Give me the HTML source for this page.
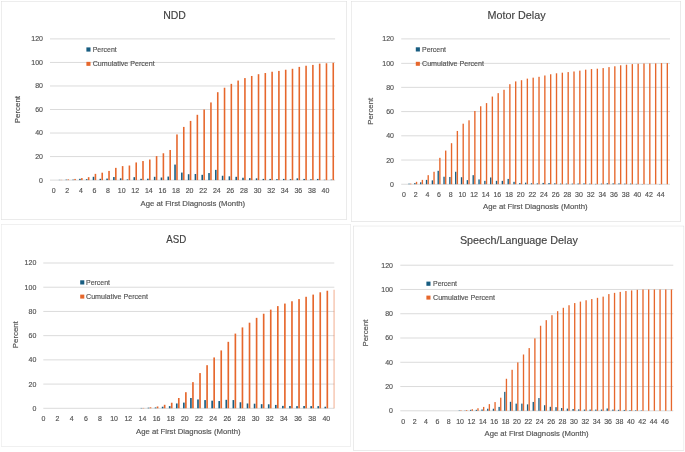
<!DOCTYPE html>
<html lang="en"><head><meta charset="utf-8"><title>Age at First Diagnosis</title>
<style>html,body{margin:0;padding:0;background:#fff}body{width:685px;height:452px;overflow:hidden}svg{display:block;will-change:transform;transform:translateZ(0)}</style>
</head><body>
<svg width="685" height="452" viewBox="0 0 685 452" font-family='&quot;Liberation Sans&quot;, sans-serif' fill="#525252" stroke="#525252" stroke-width="0.16" paint-order="stroke">
<rect width="685" height="452" fill="#fff" stroke="none"/>
<g>
<rect x="1.50" y="1.50" width="344.90" height="217.80" fill="#fff" stroke="#DBDBDB" stroke-width="1"/>
<rect x="50.00" y="179.60" width="285.10" height="1" fill="#DBDBDB" stroke="none"/>
<text x="39.10" y="182.55" font-size="7.6" textLength="3.90" lengthAdjust="spacingAndGlyphs">0</text>
<rect x="50.00" y="156.07" width="285.10" height="1" fill="#DBDBDB" stroke="none"/>
<text x="35.20" y="159.02" font-size="7.6" textLength="7.80" lengthAdjust="spacingAndGlyphs">20</text>
<rect x="50.00" y="132.53" width="285.10" height="1" fill="#DBDBDB" stroke="none"/>
<text x="35.20" y="135.48" font-size="7.6" textLength="7.80" lengthAdjust="spacingAndGlyphs">40</text>
<rect x="50.00" y="109.00" width="285.10" height="1" fill="#DBDBDB" stroke="none"/>
<text x="35.20" y="111.95" font-size="7.6" textLength="7.80" lengthAdjust="spacingAndGlyphs">60</text>
<rect x="50.00" y="85.47" width="285.10" height="1" fill="#DBDBDB" stroke="none"/>
<text x="35.20" y="88.42" font-size="7.6" textLength="7.80" lengthAdjust="spacingAndGlyphs">80</text>
<rect x="50.00" y="61.93" width="285.10" height="1" fill="#DBDBDB" stroke="none"/>
<text x="31.30" y="64.88" font-size="7.6" textLength="11.70" lengthAdjust="spacingAndGlyphs">100</text>
<rect x="50.00" y="38.40" width="285.10" height="1" fill="#DBDBDB" stroke="none"/>
<text x="31.30" y="41.35" font-size="7.6" textLength="11.70" lengthAdjust="spacingAndGlyphs">120</text>
<clipPath id="c1"><rect x="50.00" y="0" width="285.10" height="452"/></clipPath>
<g clip-path="url(#c1)">
<rect x="58.74" y="179.86" width="1.58" height="0.24" fill="#185D81" stroke="none"/>
<rect x="60.67" y="179.86" width="1.58" height="0.24" fill="#E6672C" stroke="none"/>
<rect x="65.53" y="179.63" width="1.58" height="0.47" fill="#185D81" stroke="none"/>
<rect x="67.47" y="179.39" width="1.58" height="0.71" fill="#E6672C" stroke="none"/>
<rect x="72.33" y="179.63" width="1.58" height="0.47" fill="#185D81" stroke="none"/>
<rect x="74.26" y="178.92" width="1.58" height="1.18" fill="#E6672C" stroke="none"/>
<rect x="79.12" y="178.81" width="1.58" height="1.29" fill="#185D81" stroke="none"/>
<rect x="81.06" y="178.10" width="1.58" height="2.00" fill="#E6672C" stroke="none"/>
<rect x="85.92" y="179.16" width="1.58" height="0.94" fill="#185D81" stroke="none"/>
<rect x="87.85" y="177.16" width="1.58" height="2.94" fill="#E6672C" stroke="none"/>
<rect x="92.71" y="176.81" width="1.58" height="3.29" fill="#185D81" stroke="none"/>
<rect x="94.65" y="173.86" width="1.58" height="6.24" fill="#E6672C" stroke="none"/>
<rect x="99.51" y="178.81" width="1.58" height="1.29" fill="#185D81" stroke="none"/>
<rect x="101.44" y="172.69" width="1.58" height="7.41" fill="#E6672C" stroke="none"/>
<rect x="106.30" y="178.57" width="1.58" height="1.53" fill="#185D81" stroke="none"/>
<rect x="108.24" y="170.92" width="1.58" height="9.18" fill="#E6672C" stroke="none"/>
<rect x="113.10" y="177.04" width="1.58" height="3.06" fill="#185D81" stroke="none"/>
<rect x="115.03" y="167.86" width="1.58" height="12.24" fill="#E6672C" stroke="none"/>
<rect x="119.89" y="178.34" width="1.58" height="1.76" fill="#185D81" stroke="none"/>
<rect x="121.83" y="166.10" width="1.58" height="14.00" fill="#E6672C" stroke="none"/>
<rect x="126.69" y="179.39" width="1.58" height="0.71" fill="#185D81" stroke="none"/>
<rect x="128.62" y="165.51" width="1.58" height="14.59" fill="#E6672C" stroke="none"/>
<rect x="133.48" y="177.16" width="1.58" height="2.94" fill="#185D81" stroke="none"/>
<rect x="135.42" y="162.45" width="1.58" height="17.65" fill="#E6672C" stroke="none"/>
<rect x="140.28" y="178.81" width="1.58" height="1.29" fill="#185D81" stroke="none"/>
<rect x="142.21" y="161.04" width="1.58" height="19.06" fill="#E6672C" stroke="none"/>
<rect x="147.07" y="178.69" width="1.58" height="1.41" fill="#185D81" stroke="none"/>
<rect x="149.01" y="159.51" width="1.58" height="20.59" fill="#E6672C" stroke="none"/>
<rect x="153.87" y="176.81" width="1.58" height="3.29" fill="#185D81" stroke="none"/>
<rect x="155.80" y="156.10" width="1.58" height="24.00" fill="#E6672C" stroke="none"/>
<rect x="160.66" y="177.51" width="1.58" height="2.59" fill="#185D81" stroke="none"/>
<rect x="162.60" y="153.27" width="1.58" height="26.83" fill="#E6672C" stroke="none"/>
<rect x="167.46" y="176.57" width="1.58" height="3.53" fill="#185D81" stroke="none"/>
<rect x="169.39" y="149.98" width="1.58" height="30.12" fill="#E6672C" stroke="none"/>
<rect x="174.25" y="164.57" width="1.58" height="15.53" fill="#185D81" stroke="none"/>
<rect x="176.19" y="134.45" width="1.58" height="45.65" fill="#E6672C" stroke="none"/>
<rect x="181.05" y="172.57" width="1.58" height="7.53" fill="#185D81" stroke="none"/>
<rect x="182.98" y="126.91" width="1.58" height="53.19" fill="#E6672C" stroke="none"/>
<rect x="187.84" y="174.22" width="1.58" height="5.88" fill="#185D81" stroke="none"/>
<rect x="189.78" y="120.91" width="1.58" height="59.19" fill="#E6672C" stroke="none"/>
<rect x="194.64" y="173.98" width="1.58" height="6.12" fill="#185D81" stroke="none"/>
<rect x="196.57" y="114.80" width="1.58" height="65.30" fill="#E6672C" stroke="none"/>
<rect x="201.43" y="174.81" width="1.58" height="5.29" fill="#185D81" stroke="none"/>
<rect x="203.37" y="109.50" width="1.58" height="70.60" fill="#E6672C" stroke="none"/>
<rect x="208.23" y="173.04" width="1.58" height="7.06" fill="#185D81" stroke="none"/>
<rect x="210.16" y="102.44" width="1.58" height="77.66" fill="#E6672C" stroke="none"/>
<rect x="215.02" y="169.86" width="1.58" height="10.24" fill="#185D81" stroke="none"/>
<rect x="216.96" y="92.20" width="1.58" height="87.90" fill="#E6672C" stroke="none"/>
<rect x="221.82" y="175.75" width="1.58" height="4.35" fill="#185D81" stroke="none"/>
<rect x="223.75" y="87.73" width="1.58" height="92.37" fill="#E6672C" stroke="none"/>
<rect x="228.61" y="176.33" width="1.58" height="3.77" fill="#185D81" stroke="none"/>
<rect x="230.55" y="83.85" width="1.58" height="96.25" fill="#E6672C" stroke="none"/>
<rect x="235.41" y="176.81" width="1.58" height="3.29" fill="#185D81" stroke="none"/>
<rect x="237.34" y="80.55" width="1.58" height="99.55" fill="#E6672C" stroke="none"/>
<rect x="242.20" y="177.75" width="1.58" height="2.35" fill="#185D81" stroke="none"/>
<rect x="244.14" y="78.08" width="1.58" height="102.02" fill="#E6672C" stroke="none"/>
<rect x="249.00" y="178.10" width="1.58" height="2.00" fill="#185D81" stroke="none"/>
<rect x="250.93" y="75.97" width="1.58" height="104.13" fill="#E6672C" stroke="none"/>
<rect x="255.79" y="178.34" width="1.58" height="1.76" fill="#185D81" stroke="none"/>
<rect x="257.73" y="74.20" width="1.58" height="105.90" fill="#E6672C" stroke="none"/>
<rect x="262.59" y="178.92" width="1.58" height="1.18" fill="#185D81" stroke="none"/>
<rect x="264.52" y="73.02" width="1.58" height="107.08" fill="#E6672C" stroke="none"/>
<rect x="269.38" y="178.92" width="1.58" height="1.18" fill="#185D81" stroke="none"/>
<rect x="271.32" y="71.73" width="1.58" height="108.37" fill="#E6672C" stroke="none"/>
<rect x="276.18" y="179.16" width="1.58" height="0.94" fill="#185D81" stroke="none"/>
<rect x="278.11" y="70.91" width="1.58" height="109.19" fill="#E6672C" stroke="none"/>
<rect x="282.97" y="178.92" width="1.58" height="1.18" fill="#185D81" stroke="none"/>
<rect x="284.91" y="69.73" width="1.58" height="110.37" fill="#E6672C" stroke="none"/>
<rect x="289.77" y="179.16" width="1.58" height="0.94" fill="#185D81" stroke="none"/>
<rect x="291.70" y="68.79" width="1.58" height="111.31" fill="#E6672C" stroke="none"/>
<rect x="296.56" y="178.34" width="1.58" height="1.76" fill="#185D81" stroke="none"/>
<rect x="298.50" y="66.90" width="1.58" height="113.20" fill="#E6672C" stroke="none"/>
<rect x="303.36" y="178.92" width="1.58" height="1.18" fill="#185D81" stroke="none"/>
<rect x="305.29" y="65.73" width="1.58" height="114.37" fill="#E6672C" stroke="none"/>
<rect x="310.15" y="179.28" width="1.58" height="0.82" fill="#185D81" stroke="none"/>
<rect x="312.09" y="64.90" width="1.58" height="115.20" fill="#E6672C" stroke="none"/>
<rect x="316.95" y="178.92" width="1.58" height="1.18" fill="#185D81" stroke="none"/>
<rect x="318.88" y="63.61" width="1.58" height="116.49" fill="#E6672C" stroke="none"/>
<rect x="323.74" y="179.75" width="1.58" height="0.35" fill="#185D81" stroke="none"/>
<rect x="325.68" y="63.26" width="1.58" height="116.84" fill="#E6672C" stroke="none"/>
<rect x="330.54" y="179.63" width="1.58" height="0.47" fill="#185D81" stroke="none"/>
<rect x="332.47" y="62.79" width="1.58" height="117.31" fill="#E6672C" stroke="none"/>
</g>
<text x="51.75" y="192.90" font-size="7.6" textLength="3.90" lengthAdjust="spacingAndGlyphs">0</text>
<text x="65.34" y="192.90" font-size="7.6" textLength="3.90" lengthAdjust="spacingAndGlyphs">2</text>
<text x="78.93" y="192.90" font-size="7.6" textLength="3.90" lengthAdjust="spacingAndGlyphs">4</text>
<text x="92.52" y="192.90" font-size="7.6" textLength="3.90" lengthAdjust="spacingAndGlyphs">6</text>
<text x="106.11" y="192.90" font-size="7.6" textLength="3.90" lengthAdjust="spacingAndGlyphs">8</text>
<text x="117.75" y="192.90" font-size="7.6" textLength="7.80" lengthAdjust="spacingAndGlyphs">10</text>
<text x="131.34" y="192.90" font-size="7.6" textLength="7.80" lengthAdjust="spacingAndGlyphs">12</text>
<text x="144.93" y="192.90" font-size="7.6" textLength="7.80" lengthAdjust="spacingAndGlyphs">14</text>
<text x="158.52" y="192.90" font-size="7.6" textLength="7.80" lengthAdjust="spacingAndGlyphs">16</text>
<text x="172.11" y="192.90" font-size="7.6" textLength="7.80" lengthAdjust="spacingAndGlyphs">18</text>
<text x="185.70" y="192.90" font-size="7.6" textLength="7.80" lengthAdjust="spacingAndGlyphs">20</text>
<text x="199.29" y="192.90" font-size="7.6" textLength="7.80" lengthAdjust="spacingAndGlyphs">22</text>
<text x="212.88" y="192.90" font-size="7.6" textLength="7.80" lengthAdjust="spacingAndGlyphs">24</text>
<text x="226.47" y="192.90" font-size="7.6" textLength="7.80" lengthAdjust="spacingAndGlyphs">26</text>
<text x="240.06" y="192.90" font-size="7.6" textLength="7.80" lengthAdjust="spacingAndGlyphs">28</text>
<text x="253.65" y="192.90" font-size="7.6" textLength="7.80" lengthAdjust="spacingAndGlyphs">30</text>
<text x="267.24" y="192.90" font-size="7.6" textLength="7.80" lengthAdjust="spacingAndGlyphs">32</text>
<text x="280.83" y="192.90" font-size="7.6" textLength="7.80" lengthAdjust="spacingAndGlyphs">34</text>
<text x="294.42" y="192.90" font-size="7.6" textLength="7.80" lengthAdjust="spacingAndGlyphs">36</text>
<text x="308.01" y="192.90" font-size="7.6" textLength="7.80" lengthAdjust="spacingAndGlyphs">38</text>
<text x="321.60" y="192.90" font-size="7.6" textLength="7.80" lengthAdjust="spacingAndGlyphs">40</text>
<text x="140.60" y="205.70" font-size="7.6" textLength="104.60" lengthAdjust="spacingAndGlyphs">Age at First Diagnosis (Month)</text>
<text transform="translate(20.30 109.60) rotate(-90)" x="-13.65" font-size="7.6" textLength="27.30" lengthAdjust="spacingAndGlyphs">Percent</text>
<text x="163.15" y="19.40" font-size="10.9" fill="#404040" textLength="22.70" lengthAdjust="spacingAndGlyphs">NDD</text>
<rect x="86.40" y="47.40" width="4.1" height="4.2" fill="#185D81" stroke="none"/>
<text x="92.70" y="52.10" font-size="7.6" textLength="24.0" lengthAdjust="spacingAndGlyphs">Percent</text>
<rect x="86.40" y="61.85" width="4.1" height="4.0" fill="#E6672C" stroke="none"/>
<text x="92.70" y="66.35" font-size="7.6" textLength="62.0" lengthAdjust="spacingAndGlyphs">Cumulative Percent</text>
</g>
<g>
<rect x="351.50" y="1.50" width="328.90" height="219.70" fill="#fff" stroke="#DBDBDB" stroke-width="1"/>
<rect x="401.20" y="183.75" width="268.80" height="1" fill="#DBDBDB" stroke="none"/>
<text x="390.10" y="186.80" font-size="7.6" textLength="3.90" lengthAdjust="spacingAndGlyphs">0</text>
<rect x="401.20" y="159.53" width="268.80" height="1" fill="#DBDBDB" stroke="none"/>
<text x="386.20" y="162.57" font-size="7.6" textLength="7.80" lengthAdjust="spacingAndGlyphs">20</text>
<rect x="401.20" y="135.30" width="268.80" height="1" fill="#DBDBDB" stroke="none"/>
<text x="386.20" y="138.35" font-size="7.6" textLength="7.80" lengthAdjust="spacingAndGlyphs">40</text>
<rect x="401.20" y="111.08" width="268.80" height="1" fill="#DBDBDB" stroke="none"/>
<text x="386.20" y="114.12" font-size="7.6" textLength="7.80" lengthAdjust="spacingAndGlyphs">60</text>
<rect x="401.20" y="86.85" width="268.80" height="1" fill="#DBDBDB" stroke="none"/>
<text x="386.20" y="89.90" font-size="7.6" textLength="7.80" lengthAdjust="spacingAndGlyphs">80</text>
<rect x="401.20" y="62.85" width="268.80" height="1" fill="#DBDBDB" stroke="none"/>
<text x="382.30" y="65.90" font-size="7.6" textLength="11.70" lengthAdjust="spacingAndGlyphs">100</text>
<rect x="401.20" y="38.40" width="268.80" height="1" fill="#DBDBDB" stroke="none"/>
<text x="382.30" y="41.45" font-size="7.6" textLength="11.70" lengthAdjust="spacingAndGlyphs">120</text>
<clipPath id="c2"><rect x="401.20" y="0" width="268.80" height="452"/></clipPath>
<g clip-path="url(#c2)">
<rect x="408.37" y="183.64" width="1.36" height="0.61" fill="#185D81" stroke="none"/>
<rect x="410.03" y="183.64" width="1.36" height="0.61" fill="#E6672C" stroke="none"/>
<rect x="414.20" y="183.04" width="1.36" height="1.21" fill="#185D81" stroke="none"/>
<rect x="415.86" y="181.83" width="1.36" height="2.42" fill="#E6672C" stroke="none"/>
<rect x="420.04" y="182.31" width="1.36" height="1.94" fill="#185D81" stroke="none"/>
<rect x="421.70" y="179.89" width="1.36" height="4.36" fill="#E6672C" stroke="none"/>
<rect x="425.87" y="179.89" width="1.36" height="4.36" fill="#185D81" stroke="none"/>
<rect x="427.53" y="175.17" width="1.36" height="9.08" fill="#E6672C" stroke="none"/>
<rect x="431.70" y="180.37" width="1.36" height="3.88" fill="#185D81" stroke="none"/>
<rect x="433.36" y="171.77" width="1.36" height="12.48" fill="#E6672C" stroke="none"/>
<rect x="437.53" y="170.81" width="1.36" height="13.44" fill="#185D81" stroke="none"/>
<rect x="439.19" y="157.84" width="1.36" height="26.41" fill="#E6672C" stroke="none"/>
<rect x="443.36" y="176.74" width="1.36" height="7.51" fill="#185D81" stroke="none"/>
<rect x="445.02" y="150.58" width="1.36" height="33.67" fill="#E6672C" stroke="none"/>
<rect x="449.20" y="176.98" width="1.36" height="7.27" fill="#185D81" stroke="none"/>
<rect x="450.86" y="143.19" width="1.36" height="41.06" fill="#E6672C" stroke="none"/>
<rect x="455.03" y="171.77" width="1.36" height="12.48" fill="#185D81" stroke="none"/>
<rect x="456.69" y="130.96" width="1.36" height="53.29" fill="#E6672C" stroke="none"/>
<rect x="460.86" y="177.22" width="1.36" height="7.03" fill="#185D81" stroke="none"/>
<rect x="462.52" y="123.69" width="1.36" height="60.56" fill="#E6672C" stroke="none"/>
<rect x="466.69" y="180.13" width="1.36" height="4.12" fill="#185D81" stroke="none"/>
<rect x="468.35" y="120.30" width="1.36" height="63.95" fill="#E6672C" stroke="none"/>
<rect x="472.52" y="175.17" width="1.36" height="9.08" fill="#185D81" stroke="none"/>
<rect x="474.18" y="110.97" width="1.36" height="73.28" fill="#E6672C" stroke="none"/>
<rect x="478.36" y="179.41" width="1.36" height="4.84" fill="#185D81" stroke="none"/>
<rect x="480.02" y="106.25" width="1.36" height="78.00" fill="#E6672C" stroke="none"/>
<rect x="484.19" y="180.86" width="1.36" height="3.39" fill="#185D81" stroke="none"/>
<rect x="485.85" y="103.10" width="1.36" height="81.15" fill="#E6672C" stroke="none"/>
<rect x="490.02" y="177.47" width="1.36" height="6.78" fill="#185D81" stroke="none"/>
<rect x="491.68" y="96.56" width="1.36" height="87.69" fill="#E6672C" stroke="none"/>
<rect x="495.85" y="180.86" width="1.36" height="3.39" fill="#185D81" stroke="none"/>
<rect x="497.51" y="93.16" width="1.36" height="91.09" fill="#E6672C" stroke="none"/>
<rect x="501.68" y="180.86" width="1.36" height="3.39" fill="#185D81" stroke="none"/>
<rect x="503.34" y="89.77" width="1.36" height="94.48" fill="#E6672C" stroke="none"/>
<rect x="507.52" y="178.92" width="1.36" height="5.33" fill="#185D81" stroke="none"/>
<rect x="509.18" y="84.20" width="1.36" height="100.05" fill="#E6672C" stroke="none"/>
<rect x="513.35" y="181.83" width="1.36" height="2.42" fill="#185D81" stroke="none"/>
<rect x="515.01" y="81.41" width="1.36" height="102.84" fill="#E6672C" stroke="none"/>
<rect x="519.18" y="183.04" width="1.36" height="1.21" fill="#185D81" stroke="none"/>
<rect x="520.84" y="80.20" width="1.36" height="104.05" fill="#E6672C" stroke="none"/>
<rect x="525.01" y="182.68" width="1.36" height="1.57" fill="#185D81" stroke="none"/>
<rect x="526.67" y="78.63" width="1.36" height="105.62" fill="#E6672C" stroke="none"/>
<rect x="530.84" y="183.28" width="1.36" height="0.97" fill="#185D81" stroke="none"/>
<rect x="532.50" y="77.66" width="1.36" height="106.59" fill="#E6672C" stroke="none"/>
<rect x="536.68" y="183.40" width="1.36" height="0.85" fill="#185D81" stroke="none"/>
<rect x="538.34" y="76.81" width="1.36" height="107.44" fill="#E6672C" stroke="none"/>
<rect x="542.51" y="182.92" width="1.36" height="1.33" fill="#185D81" stroke="none"/>
<rect x="544.17" y="75.48" width="1.36" height="108.77" fill="#E6672C" stroke="none"/>
<rect x="548.34" y="183.04" width="1.36" height="1.21" fill="#185D81" stroke="none"/>
<rect x="550.00" y="74.27" width="1.36" height="109.98" fill="#E6672C" stroke="none"/>
<rect x="554.17" y="183.28" width="1.36" height="0.97" fill="#185D81" stroke="none"/>
<rect x="555.83" y="73.30" width="1.36" height="110.95" fill="#E6672C" stroke="none"/>
<rect x="560.00" y="183.64" width="1.36" height="0.61" fill="#185D81" stroke="none"/>
<rect x="561.66" y="72.69" width="1.36" height="111.56" fill="#E6672C" stroke="none"/>
<rect x="565.84" y="183.64" width="1.36" height="0.61" fill="#185D81" stroke="none"/>
<rect x="567.50" y="72.09" width="1.36" height="112.16" fill="#E6672C" stroke="none"/>
<rect x="571.67" y="183.64" width="1.36" height="0.61" fill="#185D81" stroke="none"/>
<rect x="573.33" y="71.48" width="1.36" height="112.77" fill="#E6672C" stroke="none"/>
<rect x="577.50" y="183.52" width="1.36" height="0.73" fill="#185D81" stroke="none"/>
<rect x="579.16" y="70.63" width="1.36" height="113.62" fill="#E6672C" stroke="none"/>
<rect x="583.33" y="183.40" width="1.36" height="0.85" fill="#185D81" stroke="none"/>
<rect x="584.99" y="69.67" width="1.36" height="114.58" fill="#E6672C" stroke="none"/>
<rect x="589.16" y="183.64" width="1.36" height="0.61" fill="#185D81" stroke="none"/>
<rect x="590.82" y="69.06" width="1.36" height="115.19" fill="#E6672C" stroke="none"/>
<rect x="595.00" y="183.89" width="1.36" height="0.36" fill="#185D81" stroke="none"/>
<rect x="596.66" y="68.70" width="1.36" height="115.55" fill="#E6672C" stroke="none"/>
<rect x="600.83" y="183.64" width="1.36" height="0.61" fill="#185D81" stroke="none"/>
<rect x="602.49" y="68.09" width="1.36" height="116.16" fill="#E6672C" stroke="none"/>
<rect x="606.66" y="183.28" width="1.36" height="0.97" fill="#185D81" stroke="none"/>
<rect x="608.32" y="67.12" width="1.36" height="117.13" fill="#E6672C" stroke="none"/>
<rect x="612.49" y="183.40" width="1.36" height="0.85" fill="#185D81" stroke="none"/>
<rect x="614.15" y="66.27" width="1.36" height="117.98" fill="#E6672C" stroke="none"/>
<rect x="618.32" y="183.40" width="1.36" height="0.85" fill="#185D81" stroke="none"/>
<rect x="619.98" y="65.31" width="1.36" height="118.94" fill="#E6672C" stroke="none"/>
<rect x="624.16" y="183.64" width="1.36" height="0.61" fill="#185D81" stroke="none"/>
<rect x="625.82" y="64.70" width="1.36" height="119.55" fill="#E6672C" stroke="none"/>
<rect x="629.99" y="183.64" width="1.36" height="0.61" fill="#185D81" stroke="none"/>
<rect x="631.65" y="64.09" width="1.36" height="120.16" fill="#E6672C" stroke="none"/>
<rect x="635.82" y="183.89" width="1.36" height="0.36" fill="#185D81" stroke="none"/>
<rect x="637.48" y="63.73" width="1.36" height="120.52" fill="#E6672C" stroke="none"/>
<rect x="641.65" y="184.01" width="1.36" height="0.24" fill="#185D81" stroke="none"/>
<rect x="643.31" y="63.49" width="1.36" height="120.76" fill="#E6672C" stroke="none"/>
<rect x="647.48" y="184.13" width="1.36" height="0.12" fill="#185D81" stroke="none"/>
<rect x="649.14" y="63.37" width="1.36" height="120.88" fill="#E6672C" stroke="none"/>
<rect x="654.98" y="63.37" width="1.36" height="120.88" fill="#E6672C" stroke="none"/>
<rect x="659.15" y="184.01" width="1.36" height="0.24" fill="#185D81" stroke="none"/>
<rect x="660.81" y="63.12" width="1.36" height="121.12" fill="#E6672C" stroke="none"/>
<rect x="666.64" y="63.12" width="1.36" height="121.12" fill="#E6672C" stroke="none"/>
</g>
<text x="402.10" y="197.30" font-size="7.6" textLength="3.90" lengthAdjust="spacingAndGlyphs">0</text>
<text x="413.76" y="197.30" font-size="7.6" textLength="3.90" lengthAdjust="spacingAndGlyphs">2</text>
<text x="425.43" y="197.30" font-size="7.6" textLength="3.90" lengthAdjust="spacingAndGlyphs">4</text>
<text x="437.09" y="197.30" font-size="7.6" textLength="3.90" lengthAdjust="spacingAndGlyphs">6</text>
<text x="448.76" y="197.30" font-size="7.6" textLength="3.90" lengthAdjust="spacingAndGlyphs">8</text>
<text x="458.47" y="197.30" font-size="7.6" textLength="7.80" lengthAdjust="spacingAndGlyphs">10</text>
<text x="470.13" y="197.30" font-size="7.6" textLength="7.80" lengthAdjust="spacingAndGlyphs">12</text>
<text x="481.80" y="197.30" font-size="7.6" textLength="7.80" lengthAdjust="spacingAndGlyphs">14</text>
<text x="493.46" y="197.30" font-size="7.6" textLength="7.80" lengthAdjust="spacingAndGlyphs">16</text>
<text x="505.13" y="197.30" font-size="7.6" textLength="7.80" lengthAdjust="spacingAndGlyphs">18</text>
<text x="516.79" y="197.30" font-size="7.6" textLength="7.80" lengthAdjust="spacingAndGlyphs">20</text>
<text x="528.45" y="197.30" font-size="7.6" textLength="7.80" lengthAdjust="spacingAndGlyphs">22</text>
<text x="540.12" y="197.30" font-size="7.6" textLength="7.80" lengthAdjust="spacingAndGlyphs">24</text>
<text x="551.78" y="197.30" font-size="7.6" textLength="7.80" lengthAdjust="spacingAndGlyphs">26</text>
<text x="563.45" y="197.30" font-size="7.6" textLength="7.80" lengthAdjust="spacingAndGlyphs">28</text>
<text x="575.11" y="197.30" font-size="7.6" textLength="7.80" lengthAdjust="spacingAndGlyphs">30</text>
<text x="586.77" y="197.30" font-size="7.6" textLength="7.80" lengthAdjust="spacingAndGlyphs">32</text>
<text x="598.44" y="197.30" font-size="7.6" textLength="7.80" lengthAdjust="spacingAndGlyphs">34</text>
<text x="610.10" y="197.30" font-size="7.6" textLength="7.80" lengthAdjust="spacingAndGlyphs">36</text>
<text x="621.77" y="197.30" font-size="7.6" textLength="7.80" lengthAdjust="spacingAndGlyphs">38</text>
<text x="633.43" y="197.30" font-size="7.6" textLength="7.80" lengthAdjust="spacingAndGlyphs">40</text>
<text x="645.09" y="197.30" font-size="7.6" textLength="7.80" lengthAdjust="spacingAndGlyphs">42</text>
<text x="656.76" y="197.30" font-size="7.6" textLength="7.80" lengthAdjust="spacingAndGlyphs">44</text>
<text x="483.05" y="209.30" font-size="7.6" textLength="104.50" lengthAdjust="spacingAndGlyphs">Age at First Diagnosis (Month)</text>
<text transform="translate(372.80 111.30) rotate(-90)" x="-13.50" font-size="7.6" textLength="27.00" lengthAdjust="spacingAndGlyphs">Percent</text>
<text x="487.40" y="19.40" font-size="10.9" fill="#404040" textLength="58.20" lengthAdjust="spacingAndGlyphs">Motor Delay</text>
<rect x="415.80" y="47.30" width="4.1" height="4.2" fill="#185D81" stroke="none"/>
<text x="422.00" y="52.00" font-size="7.6" textLength="24.0" lengthAdjust="spacingAndGlyphs">Percent</text>
<rect x="415.80" y="61.80" width="4.1" height="4.0" fill="#E6672C" stroke="none"/>
<text x="422.00" y="66.30" font-size="7.6" textLength="62.0" lengthAdjust="spacingAndGlyphs">Cumulative Percent</text>
</g>
<g>
<rect x="1.50" y="224.60" width="348.90" height="221.50" fill="#fff" stroke="#E4E4E4" stroke-width="1"/>
<rect x="43.30" y="407.80" width="291.00" height="1" fill="#DBDBDB" stroke="none"/>
<text x="32.40" y="410.75" font-size="7.6" textLength="3.90" lengthAdjust="spacingAndGlyphs">0</text>
<rect x="43.30" y="383.58" width="291.00" height="1" fill="#DBDBDB" stroke="none"/>
<text x="28.50" y="386.53" font-size="7.6" textLength="7.80" lengthAdjust="spacingAndGlyphs">20</text>
<rect x="43.30" y="359.37" width="291.00" height="1" fill="#DBDBDB" stroke="none"/>
<text x="28.50" y="362.32" font-size="7.6" textLength="7.80" lengthAdjust="spacingAndGlyphs">40</text>
<rect x="43.30" y="335.15" width="291.00" height="1" fill="#DBDBDB" stroke="none"/>
<text x="28.50" y="338.10" font-size="7.6" textLength="7.80" lengthAdjust="spacingAndGlyphs">60</text>
<rect x="43.30" y="310.93" width="291.00" height="1" fill="#DBDBDB" stroke="none"/>
<text x="28.50" y="313.88" font-size="7.6" textLength="7.80" lengthAdjust="spacingAndGlyphs">80</text>
<rect x="43.30" y="286.72" width="291.00" height="1" fill="#DBDBDB" stroke="none"/>
<text x="24.60" y="289.67" font-size="7.6" textLength="11.70" lengthAdjust="spacingAndGlyphs">100</text>
<rect x="43.30" y="262.50" width="291.00" height="1" fill="#DBDBDB" stroke="none"/>
<text x="24.60" y="265.45" font-size="7.6" textLength="11.70" lengthAdjust="spacingAndGlyphs">120</text>
<clipPath id="c3"><rect x="43.30" y="0" width="292.70" height="452"/></clipPath>
<g clip-path="url(#c3)">
<rect x="140.59" y="407.94" width="1.65" height="0.36" fill="#185D81" stroke="none"/>
<rect x="142.60" y="407.94" width="1.65" height="0.36" fill="#E6672C" stroke="none"/>
<rect x="147.66" y="407.69" width="1.65" height="0.61" fill="#185D81" stroke="none"/>
<rect x="149.68" y="407.33" width="1.65" height="0.97" fill="#E6672C" stroke="none"/>
<rect x="154.74" y="407.45" width="1.65" height="0.85" fill="#185D81" stroke="none"/>
<rect x="156.75" y="406.48" width="1.65" height="1.82" fill="#E6672C" stroke="none"/>
<rect x="161.81" y="406.73" width="1.65" height="1.57" fill="#185D81" stroke="none"/>
<rect x="163.82" y="404.79" width="1.65" height="3.51" fill="#E6672C" stroke="none"/>
<rect x="168.88" y="406.12" width="1.65" height="2.18" fill="#185D81" stroke="none"/>
<rect x="170.90" y="402.73" width="1.65" height="5.57" fill="#E6672C" stroke="none"/>
<rect x="175.96" y="403.46" width="1.65" height="4.84" fill="#185D81" stroke="none"/>
<rect x="177.97" y="398.01" width="1.65" height="10.29" fill="#E6672C" stroke="none"/>
<rect x="183.03" y="402.61" width="1.65" height="5.69" fill="#185D81" stroke="none"/>
<rect x="185.04" y="392.20" width="1.65" height="16.10" fill="#E6672C" stroke="none"/>
<rect x="190.10" y="398.01" width="1.65" height="10.29" fill="#185D81" stroke="none"/>
<rect x="192.12" y="382.15" width="1.65" height="26.15" fill="#E6672C" stroke="none"/>
<rect x="197.17" y="399.46" width="1.65" height="8.84" fill="#185D81" stroke="none"/>
<rect x="199.19" y="373.06" width="1.65" height="35.24" fill="#E6672C" stroke="none"/>
<rect x="204.25" y="400.07" width="1.65" height="8.23" fill="#185D81" stroke="none"/>
<rect x="206.26" y="365.19" width="1.65" height="43.11" fill="#E6672C" stroke="none"/>
<rect x="211.32" y="400.67" width="1.65" height="7.63" fill="#185D81" stroke="none"/>
<rect x="213.33" y="357.44" width="1.65" height="50.86" fill="#E6672C" stroke="none"/>
<rect x="218.39" y="401.04" width="1.65" height="7.27" fill="#185D81" stroke="none"/>
<rect x="220.41" y="350.42" width="1.65" height="57.88" fill="#E6672C" stroke="none"/>
<rect x="225.47" y="399.82" width="1.65" height="8.48" fill="#185D81" stroke="none"/>
<rect x="227.48" y="341.83" width="1.65" height="66.47" fill="#E6672C" stroke="none"/>
<rect x="232.54" y="400.07" width="1.65" height="8.23" fill="#185D81" stroke="none"/>
<rect x="234.55" y="333.59" width="1.65" height="74.71" fill="#E6672C" stroke="none"/>
<rect x="239.61" y="402.25" width="1.65" height="6.05" fill="#185D81" stroke="none"/>
<rect x="241.63" y="327.42" width="1.65" height="80.88" fill="#E6672C" stroke="none"/>
<rect x="246.69" y="403.46" width="1.65" height="4.84" fill="#185D81" stroke="none"/>
<rect x="248.70" y="322.69" width="1.65" height="85.61" fill="#E6672C" stroke="none"/>
<rect x="253.76" y="403.70" width="1.65" height="4.60" fill="#185D81" stroke="none"/>
<rect x="255.77" y="317.85" width="1.65" height="90.45" fill="#E6672C" stroke="none"/>
<rect x="260.83" y="404.18" width="1.65" height="4.12" fill="#185D81" stroke="none"/>
<rect x="262.85" y="313.73" width="1.65" height="94.57" fill="#E6672C" stroke="none"/>
<rect x="267.90" y="404.30" width="1.65" height="4.00" fill="#185D81" stroke="none"/>
<rect x="269.92" y="309.62" width="1.65" height="98.68" fill="#E6672C" stroke="none"/>
<rect x="274.98" y="404.91" width="1.65" height="3.39" fill="#185D81" stroke="none"/>
<rect x="276.99" y="306.11" width="1.65" height="102.19" fill="#E6672C" stroke="none"/>
<rect x="282.05" y="405.88" width="1.65" height="2.42" fill="#185D81" stroke="none"/>
<rect x="284.06" y="303.56" width="1.65" height="104.74" fill="#E6672C" stroke="none"/>
<rect x="289.12" y="406.00" width="1.65" height="2.30" fill="#185D81" stroke="none"/>
<rect x="291.14" y="301.26" width="1.65" height="107.04" fill="#E6672C" stroke="none"/>
<rect x="296.20" y="406.12" width="1.65" height="2.18" fill="#185D81" stroke="none"/>
<rect x="298.21" y="299.08" width="1.65" height="109.22" fill="#E6672C" stroke="none"/>
<rect x="303.27" y="406.00" width="1.65" height="2.30" fill="#185D81" stroke="none"/>
<rect x="305.28" y="296.78" width="1.65" height="111.52" fill="#E6672C" stroke="none"/>
<rect x="310.34" y="406.12" width="1.65" height="2.18" fill="#185D81" stroke="none"/>
<rect x="312.36" y="294.60" width="1.65" height="113.70" fill="#E6672C" stroke="none"/>
<rect x="317.42" y="406.12" width="1.65" height="2.18" fill="#185D81" stroke="none"/>
<rect x="319.43" y="292.30" width="1.65" height="116.00" fill="#E6672C" stroke="none"/>
<rect x="324.49" y="406.73" width="1.65" height="1.57" fill="#185D81" stroke="none"/>
<rect x="326.50" y="290.73" width="1.65" height="117.57" fill="#E6672C" stroke="none"/>
<rect x="333.28" y="289.76" width="1.65" height="118.54" fill="#E6672C" fill-opacity="0.32" stroke="none"/>
</g>
<text x="41.45" y="420.90" font-size="7.6" textLength="3.90" lengthAdjust="spacingAndGlyphs">0</text>
<text x="55.60" y="420.90" font-size="7.6" textLength="3.90" lengthAdjust="spacingAndGlyphs">2</text>
<text x="69.74" y="420.90" font-size="7.6" textLength="3.90" lengthAdjust="spacingAndGlyphs">4</text>
<text x="83.89" y="420.90" font-size="7.6" textLength="3.90" lengthAdjust="spacingAndGlyphs">6</text>
<text x="98.03" y="420.90" font-size="7.6" textLength="3.90" lengthAdjust="spacingAndGlyphs">8</text>
<text x="110.23" y="420.90" font-size="7.6" textLength="7.80" lengthAdjust="spacingAndGlyphs">10</text>
<text x="124.38" y="420.90" font-size="7.6" textLength="7.80" lengthAdjust="spacingAndGlyphs">12</text>
<text x="138.52" y="420.90" font-size="7.6" textLength="7.80" lengthAdjust="spacingAndGlyphs">14</text>
<text x="152.67" y="420.90" font-size="7.6" textLength="7.80" lengthAdjust="spacingAndGlyphs">16</text>
<text x="166.81" y="420.90" font-size="7.6" textLength="7.80" lengthAdjust="spacingAndGlyphs">18</text>
<text x="180.96" y="420.90" font-size="7.6" textLength="7.80" lengthAdjust="spacingAndGlyphs">20</text>
<text x="195.11" y="420.90" font-size="7.6" textLength="7.80" lengthAdjust="spacingAndGlyphs">22</text>
<text x="209.25" y="420.90" font-size="7.6" textLength="7.80" lengthAdjust="spacingAndGlyphs">24</text>
<text x="223.40" y="420.90" font-size="7.6" textLength="7.80" lengthAdjust="spacingAndGlyphs">26</text>
<text x="237.54" y="420.90" font-size="7.6" textLength="7.80" lengthAdjust="spacingAndGlyphs">28</text>
<text x="251.69" y="420.90" font-size="7.6" textLength="7.80" lengthAdjust="spacingAndGlyphs">30</text>
<text x="265.84" y="420.90" font-size="7.6" textLength="7.80" lengthAdjust="spacingAndGlyphs">32</text>
<text x="279.98" y="420.90" font-size="7.6" textLength="7.80" lengthAdjust="spacingAndGlyphs">34</text>
<text x="294.13" y="420.90" font-size="7.6" textLength="7.80" lengthAdjust="spacingAndGlyphs">36</text>
<text x="308.27" y="420.90" font-size="7.6" textLength="7.80" lengthAdjust="spacingAndGlyphs">38</text>
<text x="322.42" y="420.90" font-size="7.6" textLength="7.80" lengthAdjust="spacingAndGlyphs">40</text>
<text x="136.05" y="433.60" font-size="7.6" textLength="104.50" lengthAdjust="spacingAndGlyphs">Age at First Diagnosis (Month)</text>
<text transform="translate(17.90 334.70) rotate(-90)" x="-13.50" font-size="7.6" textLength="27.00" lengthAdjust="spacingAndGlyphs">Percent</text>
<text x="166.20" y="242.80" font-size="10.9" fill="#404040" textLength="20.00" lengthAdjust="spacingAndGlyphs">ASD</text>
<rect x="80.20" y="280.30" width="4.1" height="4.2" fill="#185D81" stroke="none"/>
<text x="86.00" y="285.00" font-size="7.6" textLength="24.0" lengthAdjust="spacingAndGlyphs">Percent</text>
<rect x="80.20" y="294.60" width="4.1" height="4.0" fill="#E6672C" stroke="none"/>
<text x="86.00" y="299.10" font-size="7.6" textLength="62.0" lengthAdjust="spacingAndGlyphs">Cumulative Percent</text>
</g>
<g>
<rect x="353.60" y="226.30" width="330.00" height="223.80" fill="#fff" stroke="#DBDBDB" stroke-width="1"/>
<rect x="400.30" y="410.30" width="273.00" height="1" fill="#DBDBDB" stroke="none"/>
<text x="389.10" y="413.25" font-size="7.6" textLength="3.90" lengthAdjust="spacingAndGlyphs">0</text>
<rect x="400.30" y="386.03" width="273.00" height="1" fill="#DBDBDB" stroke="none"/>
<text x="385.20" y="388.98" font-size="7.6" textLength="7.80" lengthAdjust="spacingAndGlyphs">20</text>
<rect x="400.30" y="361.77" width="273.00" height="1" fill="#DBDBDB" stroke="none"/>
<text x="385.20" y="364.72" font-size="7.6" textLength="7.80" lengthAdjust="spacingAndGlyphs">40</text>
<rect x="400.30" y="337.50" width="273.00" height="1" fill="#DBDBDB" stroke="none"/>
<text x="385.20" y="340.45" font-size="7.6" textLength="7.80" lengthAdjust="spacingAndGlyphs">60</text>
<rect x="400.30" y="313.23" width="273.00" height="1" fill="#DBDBDB" stroke="none"/>
<text x="385.20" y="316.18" font-size="7.6" textLength="7.80" lengthAdjust="spacingAndGlyphs">80</text>
<rect x="400.30" y="288.97" width="273.00" height="1" fill="#DBDBDB" stroke="none"/>
<text x="381.30" y="291.92" font-size="7.6" textLength="11.70" lengthAdjust="spacingAndGlyphs">100</text>
<rect x="400.30" y="264.70" width="273.00" height="1" fill="#DBDBDB" stroke="none"/>
<text x="381.30" y="267.65" font-size="7.6" textLength="11.70" lengthAdjust="spacingAndGlyphs">120</text>
<clipPath id="c4"><rect x="400.30" y="0" width="273.00" height="452"/></clipPath>
<g clip-path="url(#c4)">
<rect x="458.63" y="410.44" width="1.33" height="0.36" fill="#185D81" stroke="none"/>
<rect x="460.25" y="410.31" width="1.33" height="0.49" fill="#E6672C" stroke="none"/>
<rect x="464.32" y="410.56" width="1.33" height="0.24" fill="#185D81" stroke="none"/>
<rect x="465.94" y="410.07" width="1.33" height="0.73" fill="#E6672C" stroke="none"/>
<rect x="470.01" y="409.83" width="1.33" height="0.97" fill="#185D81" stroke="none"/>
<rect x="471.63" y="409.22" width="1.33" height="1.58" fill="#E6672C" stroke="none"/>
<rect x="475.70" y="409.83" width="1.33" height="0.97" fill="#185D81" stroke="none"/>
<rect x="477.32" y="408.25" width="1.33" height="2.55" fill="#E6672C" stroke="none"/>
<rect x="481.39" y="409.47" width="1.33" height="1.33" fill="#185D81" stroke="none"/>
<rect x="483.01" y="406.92" width="1.33" height="3.88" fill="#E6672C" stroke="none"/>
<rect x="487.08" y="408.74" width="1.33" height="2.06" fill="#185D81" stroke="none"/>
<rect x="488.70" y="404.13" width="1.33" height="6.67" fill="#E6672C" stroke="none"/>
<rect x="492.77" y="408.74" width="1.33" height="2.06" fill="#185D81" stroke="none"/>
<rect x="494.39" y="402.06" width="1.33" height="8.74" fill="#E6672C" stroke="none"/>
<rect x="498.46" y="406.92" width="1.33" height="3.88" fill="#185D81" stroke="none"/>
<rect x="500.08" y="397.70" width="1.33" height="13.10" fill="#E6672C" stroke="none"/>
<rect x="504.15" y="391.87" width="1.33" height="18.93" fill="#185D81" stroke="none"/>
<rect x="505.77" y="378.77" width="1.33" height="32.03" fill="#E6672C" stroke="none"/>
<rect x="509.84" y="401.82" width="1.33" height="8.98" fill="#185D81" stroke="none"/>
<rect x="511.46" y="369.79" width="1.33" height="41.01" fill="#E6672C" stroke="none"/>
<rect x="515.53" y="403.64" width="1.33" height="7.16" fill="#185D81" stroke="none"/>
<rect x="517.15" y="362.39" width="1.33" height="48.41" fill="#E6672C" stroke="none"/>
<rect x="521.22" y="403.64" width="1.33" height="7.16" fill="#185D81" stroke="none"/>
<rect x="522.84" y="354.50" width="1.33" height="56.30" fill="#E6672C" stroke="none"/>
<rect x="526.91" y="404.37" width="1.33" height="6.43" fill="#185D81" stroke="none"/>
<rect x="528.53" y="348.07" width="1.33" height="62.73" fill="#E6672C" stroke="none"/>
<rect x="532.60" y="401.94" width="1.33" height="8.86" fill="#185D81" stroke="none"/>
<rect x="534.22" y="338.36" width="1.33" height="72.44" fill="#E6672C" stroke="none"/>
<rect x="538.29" y="398.06" width="1.33" height="12.74" fill="#185D81" stroke="none"/>
<rect x="539.91" y="325.75" width="1.33" height="85.05" fill="#E6672C" stroke="none"/>
<rect x="543.98" y="405.22" width="1.33" height="5.58" fill="#185D81" stroke="none"/>
<rect x="545.60" y="320.16" width="1.33" height="90.64" fill="#E6672C" stroke="none"/>
<rect x="549.67" y="406.80" width="1.33" height="4.00" fill="#185D81" stroke="none"/>
<rect x="551.29" y="315.19" width="1.33" height="95.61" fill="#E6672C" stroke="none"/>
<rect x="555.36" y="407.16" width="1.33" height="3.64" fill="#185D81" stroke="none"/>
<rect x="556.98" y="311.19" width="1.33" height="99.61" fill="#E6672C" stroke="none"/>
<rect x="561.05" y="408.01" width="1.33" height="2.79" fill="#185D81" stroke="none"/>
<rect x="562.67" y="307.79" width="1.33" height="103.01" fill="#E6672C" stroke="none"/>
<rect x="566.74" y="408.62" width="1.33" height="2.18" fill="#185D81" stroke="none"/>
<rect x="568.36" y="305.24" width="1.33" height="105.56" fill="#E6672C" stroke="none"/>
<rect x="572.43" y="408.98" width="1.33" height="1.82" fill="#185D81" stroke="none"/>
<rect x="574.05" y="303.06" width="1.33" height="107.74" fill="#E6672C" stroke="none"/>
<rect x="578.12" y="409.34" width="1.33" height="1.46" fill="#185D81" stroke="none"/>
<rect x="579.74" y="301.60" width="1.33" height="109.20" fill="#E6672C" stroke="none"/>
<rect x="583.81" y="409.59" width="1.33" height="1.21" fill="#185D81" stroke="none"/>
<rect x="585.43" y="300.27" width="1.33" height="110.53" fill="#E6672C" stroke="none"/>
<rect x="589.50" y="409.59" width="1.33" height="1.21" fill="#185D81" stroke="none"/>
<rect x="591.12" y="299.05" width="1.33" height="111.75" fill="#E6672C" stroke="none"/>
<rect x="595.19" y="409.59" width="1.33" height="1.21" fill="#185D81" stroke="none"/>
<rect x="596.81" y="297.84" width="1.33" height="112.96" fill="#E6672C" stroke="none"/>
<rect x="600.88" y="409.59" width="1.33" height="1.21" fill="#185D81" stroke="none"/>
<rect x="602.50" y="296.63" width="1.33" height="114.17" fill="#E6672C" stroke="none"/>
<rect x="606.57" y="408.49" width="1.33" height="2.31" fill="#185D81" stroke="none"/>
<rect x="608.19" y="294.08" width="1.33" height="116.72" fill="#E6672C" stroke="none"/>
<rect x="612.26" y="409.59" width="1.33" height="1.21" fill="#185D81" stroke="none"/>
<rect x="613.88" y="292.86" width="1.33" height="117.94" fill="#E6672C" stroke="none"/>
<rect x="617.95" y="409.83" width="1.33" height="0.97" fill="#185D81" stroke="none"/>
<rect x="619.57" y="291.89" width="1.33" height="118.91" fill="#E6672C" stroke="none"/>
<rect x="623.64" y="409.95" width="1.33" height="0.85" fill="#185D81" stroke="none"/>
<rect x="625.26" y="291.04" width="1.33" height="119.76" fill="#E6672C" stroke="none"/>
<rect x="629.33" y="410.19" width="1.33" height="0.61" fill="#185D81" stroke="none"/>
<rect x="630.95" y="290.44" width="1.33" height="120.36" fill="#E6672C" stroke="none"/>
<rect x="635.02" y="410.31" width="1.33" height="0.49" fill="#185D81" stroke="none"/>
<rect x="636.64" y="289.83" width="1.33" height="120.97" fill="#E6672C" stroke="none"/>
<rect x="640.71" y="410.44" width="1.33" height="0.36" fill="#185D81" stroke="none"/>
<rect x="642.33" y="289.47" width="1.33" height="121.33" fill="#E6672C" stroke="none"/>
<rect x="648.02" y="289.47" width="1.33" height="121.33" fill="#E6672C" stroke="none"/>
<rect x="653.71" y="289.47" width="1.33" height="121.33" fill="#E6672C" stroke="none"/>
<rect x="659.40" y="289.47" width="1.33" height="121.33" fill="#E6672C" stroke="none"/>
<rect x="665.09" y="289.47" width="1.33" height="121.33" fill="#E6672C" stroke="none"/>
<rect x="670.78" y="289.47" width="1.33" height="121.33" fill="#E6672C" stroke="none"/>
</g>
<text x="401.25" y="424.00" font-size="7.6" textLength="3.90" lengthAdjust="spacingAndGlyphs">0</text>
<text x="412.63" y="424.00" font-size="7.6" textLength="3.90" lengthAdjust="spacingAndGlyphs">2</text>
<text x="424.01" y="424.00" font-size="7.6" textLength="3.90" lengthAdjust="spacingAndGlyphs">4</text>
<text x="435.39" y="424.00" font-size="7.6" textLength="3.90" lengthAdjust="spacingAndGlyphs">6</text>
<text x="446.77" y="424.00" font-size="7.6" textLength="3.90" lengthAdjust="spacingAndGlyphs">8</text>
<text x="456.20" y="424.00" font-size="7.6" textLength="7.80" lengthAdjust="spacingAndGlyphs">10</text>
<text x="467.58" y="424.00" font-size="7.6" textLength="7.80" lengthAdjust="spacingAndGlyphs">12</text>
<text x="478.96" y="424.00" font-size="7.6" textLength="7.80" lengthAdjust="spacingAndGlyphs">14</text>
<text x="490.34" y="424.00" font-size="7.6" textLength="7.80" lengthAdjust="spacingAndGlyphs">16</text>
<text x="501.72" y="424.00" font-size="7.6" textLength="7.80" lengthAdjust="spacingAndGlyphs">18</text>
<text x="513.10" y="424.00" font-size="7.6" textLength="7.80" lengthAdjust="spacingAndGlyphs">20</text>
<text x="524.48" y="424.00" font-size="7.6" textLength="7.80" lengthAdjust="spacingAndGlyphs">22</text>
<text x="535.86" y="424.00" font-size="7.6" textLength="7.80" lengthAdjust="spacingAndGlyphs">24</text>
<text x="547.24" y="424.00" font-size="7.6" textLength="7.80" lengthAdjust="spacingAndGlyphs">26</text>
<text x="558.62" y="424.00" font-size="7.6" textLength="7.80" lengthAdjust="spacingAndGlyphs">28</text>
<text x="570.00" y="424.00" font-size="7.6" textLength="7.80" lengthAdjust="spacingAndGlyphs">30</text>
<text x="581.38" y="424.00" font-size="7.6" textLength="7.80" lengthAdjust="spacingAndGlyphs">32</text>
<text x="592.76" y="424.00" font-size="7.6" textLength="7.80" lengthAdjust="spacingAndGlyphs">34</text>
<text x="604.14" y="424.00" font-size="7.6" textLength="7.80" lengthAdjust="spacingAndGlyphs">36</text>
<text x="615.52" y="424.00" font-size="7.6" textLength="7.80" lengthAdjust="spacingAndGlyphs">38</text>
<text x="626.90" y="424.00" font-size="7.6" textLength="7.80" lengthAdjust="spacingAndGlyphs">40</text>
<text x="638.28" y="424.00" font-size="7.6" textLength="7.80" lengthAdjust="spacingAndGlyphs">42</text>
<text x="649.66" y="424.00" font-size="7.6" textLength="7.80" lengthAdjust="spacingAndGlyphs">44</text>
<text x="661.04" y="424.00" font-size="7.6" textLength="7.80" lengthAdjust="spacingAndGlyphs">46</text>
<text x="484.50" y="436.10" font-size="7.6" textLength="104.00" lengthAdjust="spacingAndGlyphs">Age at First Diagnosis (Month)</text>
<text transform="translate(367.50 333.00) rotate(-90)" x="-13.50" font-size="7.6" textLength="27.00" lengthAdjust="spacingAndGlyphs">Percent</text>
<text x="459.90" y="244.00" font-size="10.9" fill="#404040" textLength="118.00" lengthAdjust="spacingAndGlyphs">Speech/Language Delay</text>
<rect x="426.40" y="281.60" width="4.1" height="4.2" fill="#185D81" stroke="none"/>
<text x="433.00" y="286.30" font-size="7.6" textLength="24.0" lengthAdjust="spacingAndGlyphs">Percent</text>
<rect x="426.40" y="295.60" width="4.1" height="4.0" fill="#E6672C" stroke="none"/>
<text x="433.00" y="300.10" font-size="7.6" textLength="62.0" lengthAdjust="spacingAndGlyphs">Cumulative Percent</text>
</g>
</svg>
</body></html>
